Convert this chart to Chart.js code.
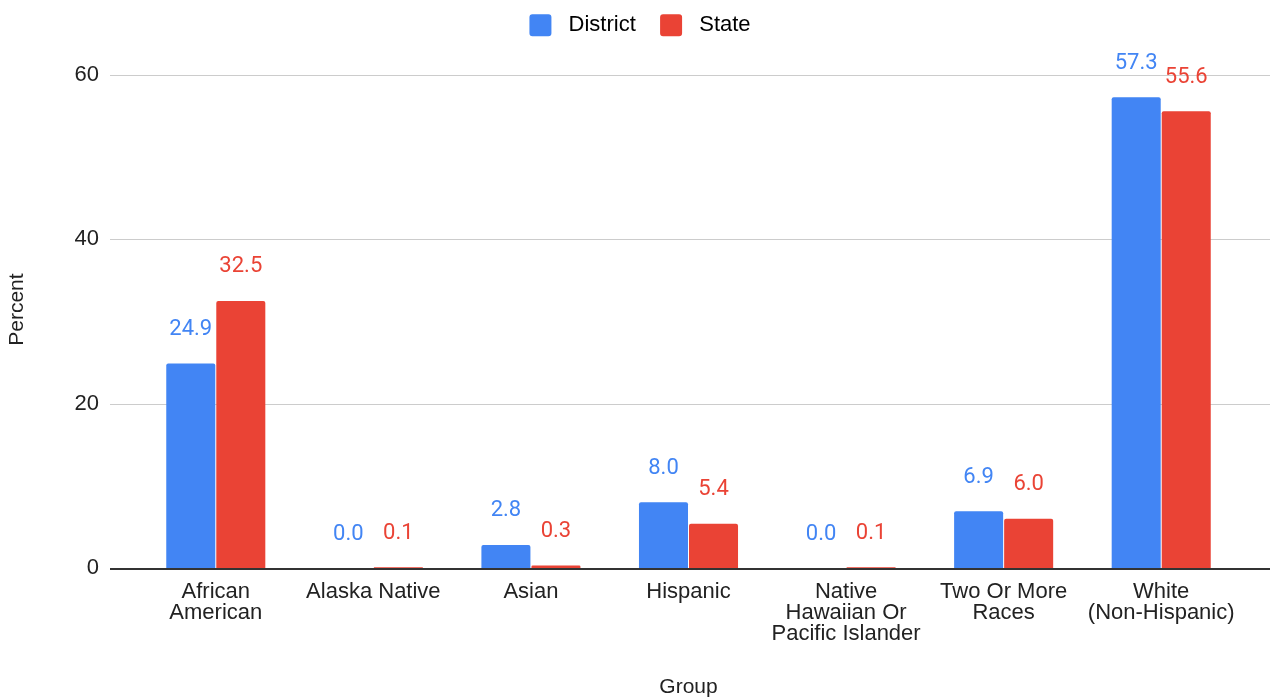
<!DOCTYPE html>
<html>
<head>
<meta charset="utf-8">
<script src="https://cdn.jsdelivr.net/npm/chart.js@4.4.1/dist/chart.umd.min.js"></script>
<style>
  html, body { margin: 0; padding: 0; background: #fff; }
  #wrap { width: 1270px; height: 700px; }
</style>
</head>
<body>
<div id="wrap"><canvas id="chart"></canvas></div>
<script>
const categories = [
  ['African', 'American'],
  'Alaska Native',
  'Asian',
  'Hispanic',
  ['Native', 'Hawaiian Or', 'Pacific Islander'],
  ['Two Or More', 'Races'],
  ['White', '(Non-Hispanic)']
];
const districtValues = [24.9, 0.0, 2.8, 8.0, 0.0, 6.9, 57.3];
const stateValues = [32.5, 0.1, 0.3, 5.4, 0.1, 6.0, 55.6];
const yTicks = [0, 20, 40, 60];

const BLUE = '#4285F4';
const RED = '#EA4335';
const FONT = "'Liberation Sans', Arial, sans-serif";

// grid lines run the full width like the original, baseline drawn dark
const gridPlugin = {
  id: 'fullGrid',
  afterLayout(chart) {
    // nudge the legend up/right a little to sit where the original has it
    const lg = chart.legend;
    lg.top -= 5; lg.bottom -= 5;
    lg.left += 5; lg.right += 5;
  },
  beforeDatasetsDraw(chart) {
    const ctx = chart.ctx, y = chart.scales.y;
    ctx.save();
    ctx.strokeStyle = '#cccccc';
    ctx.lineWidth = 1;
    yTicks.forEach(v => {
      if (v === 0) return;
      const py = Math.round(y.getPixelForValue(v)) + 0.5;
      ctx.beginPath();
      ctx.moveTo(110, py);
      ctx.lineTo(chart.width, py);
      ctx.stroke();
    });
    ctx.restore();
  },
  afterDatasetsDraw(chart) {
    const ctx = chart.ctx, y = chart.scales.y;
    ctx.save();
    ctx.strokeStyle = '#333333';
    ctx.lineWidth = 2;
    const py = y.getPixelForValue(0) + 1;
    ctx.beginPath();
    ctx.moveTo(110, py);
    ctx.lineTo(chart.width, py);
    ctx.stroke();
    ctx.restore();
  }
};

// value annotations above each bar
const valueLabels = {
  id: 'valueLabels',
  afterDatasetsDraw(chart) {
    const ctx = chart.ctx;
    ctx.save();
    ctx.font = "22px Roboto, sans-serif";
    ctx.textAlign = 'center';
    ctx.textBaseline = 'middle';
    chart.data.datasets.forEach((ds, i) => {
      ctx.fillStyle = ds.backgroundColor;
      chart.getDatasetMeta(i).data.forEach((bar, j) => {
        ctx.fillText(ds.data[j].toFixed(1), bar.x, bar.y - 34);
      });
    });
    ctx.restore();
  }
};

new Chart(document.getElementById('chart'), {
  type: 'bar',
  data: {
    labels: categories,
    datasets: [
      { label: 'District', data: districtValues, backgroundColor: BLUE, borderRadius: 2 },
      { label: 'State', data: stateValues, backgroundColor: RED, borderRadius: 2 }
    ]
  },
  options: {
    responsive: true,
    maintainAspectRatio: false,
    animation: false,
    categoryPercentage: 0.635,
    barPercentage: 0.98,
    layout: { padding: { top: 0, right: 0, left: 0, bottom: 0 } },
    plugins: {
      legend: {
        position: 'top',
        labels: {
          boxWidth: 22,
          boxHeight: 22,
          useBorderRadius: true,
          borderRadius: 3,
          padding: 6,
          color: '#222',
          font: { family: FONT, size: 22 },
          generateLabels(chart) {
            return chart.data.datasets.map((ds, i) => ({
              text: ' ' + ds.label + (i === 0 ? '   ' : ''),
              fillStyle: ds.backgroundColor,
              strokeStyle: ds.backgroundColor,
              lineWidth: 0,
              borderRadius: 3,
              datasetIndex: i
            }));
          }
        }
      },
      tooltip: { enabled: false }
    },
    scales: {
      x: {
        grid: { display: false, drawTicks: false },
        border: { display: false },
        ticks: {
          padding: 13,
          color: '#222',
          maxRotation: 0,
          autoSkip: false,
          font: { family: FONT, size: 22, lineHeight: 0.96 }
        },
        title: {
          display: true,
          text: 'Group',
          color: '#222',
          padding: 0,
          font: { family: FONT, size: 21 }
        },
        afterFit(scale) { scale.height = 132; }
      },
      y: {
        min: 0,
        max: 62.9,
        grid: { display: false, drawTicks: false },
        border: { display: false },
        afterBuildTicks(scale) { scale.ticks = yTicks.map(v => ({ value: v })); },
        ticks: {
          padding: 38,
          color: '#222',
          font: { family: FONT, size: 22 }
        },
        title: {
          display: true,
          text: 'Percent',
          color: '#222',
          padding: { top: 5, bottom: 0 },
          font: { family: FONT, size: 21 }
        },
        afterFit(scale) { scale.width = 137; }
      },
      // empty right-hand spacer so the plot ends where the original's bars end
      yRight: {
        position: 'right',
        grid: { display: false, drawTicks: false },
        border: { display: false },
        ticks: { display: false },
        afterFit(scale) { scale.width = 30; }
      }
    }
  },
  plugins: [gridPlugin, valueLabels]
});
</script>
</body>
</html>
